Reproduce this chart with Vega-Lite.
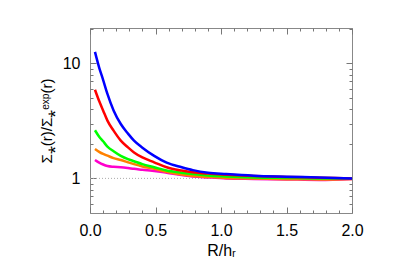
{
  "$schema": "https://vega.github.io/schema/vega-lite/v6.json",
  "width": 262,
  "height": 185,
  "autosize": {"type": "none"},
  "padding": {"left": 90, "top": 28, "right": 55, "bottom": 58},
  "background": "white",
  "config": {
    "view": {"stroke": "#888888", "strokeWidth": 1},
    "axis": {
      "grid": false,
      "domain": false,
      "labelFont": "Liberation Sans",
      "titleFont": "Liberation Sans",
      "labelFontSize": 16,
      "titleFontSize": 16,
      "labelColor": "black",
      "titleColor": "black",
      "titleFontWeight": "normal",
      "tickColor": "#777777",
      "tickWidth": 1
    }
  },
  "datasets": {
    "curves": [
      {"s": "1", "r": 0.038, "v": 1.445}, {"s": "1", "r": 0.07, "v": 1.37}, {"s": "1", "r": 0.1, "v": 1.32}, {"s": "1", "r": 0.133, "v": 1.28}, {"s": "1", "r": 0.18, "v": 1.26}, {"s": "1", "r": 0.235, "v": 1.25}, {"s": "1", "r": 0.29, "v": 1.23}, {"s": "1", "r": 0.336, "v": 1.21}, {"s": "1", "r": 0.4, "v": 1.19}, {"s": "1", "r": 0.49, "v": 1.16}, {"s": "1", "r": 0.585, "v": 1.12}, {"s": "1", "r": 0.7, "v": 1.07}, {"s": "1", "r": 0.785, "v": 1.04}, {"s": "1", "r": 0.9, "v": 1.02}, {"s": "1", "r": 1.04, "v": 1.0}, {"s": "1", "r": 1.25, "v": 0.99}, {"s": "1", "r": 1.5, "v": 0.98}, {"s": "1", "r": 1.75, "v": 0.97}, {"s": "1", "r": 2.0, "v": 0.99},
      {"s": "2", "r": 0.038, "v": 1.8}, {"s": "2", "r": 0.07, "v": 1.7}, {"s": "2", "r": 0.1, "v": 1.63}, {"s": "2", "r": 0.133, "v": 1.575}, {"s": "2", "r": 0.18, "v": 1.5}, {"s": "2", "r": 0.235, "v": 1.445}, {"s": "2", "r": 0.29, "v": 1.38}, {"s": "2", "r": 0.336, "v": 1.33}, {"s": "2", "r": 0.4, "v": 1.27}, {"s": "2", "r": 0.49, "v": 1.21}, {"s": "2", "r": 0.585, "v": 1.14}, {"s": "2", "r": 0.7, "v": 1.08}, {"s": "2", "r": 0.785, "v": 1.05}, {"s": "2", "r": 0.9, "v": 1.03}, {"s": "2", "r": 1.04, "v": 1.01}, {"s": "2", "r": 1.25, "v": 1.0}, {"s": "2", "r": 1.5, "v": 0.985}, {"s": "2", "r": 1.75, "v": 0.98}, {"s": "2", "r": 2.0, "v": 0.99},
      {"s": "3", "r": 0.038, "v": 2.62}, {"s": "3", "r": 0.07, "v": 2.3}, {"s": "3", "r": 0.1, "v": 2.1}, {"s": "3", "r": 0.133, "v": 1.89}, {"s": "3", "r": 0.18, "v": 1.72}, {"s": "3", "r": 0.235, "v": 1.57}, {"s": "3", "r": 0.29, "v": 1.47}, {"s": "3", "r": 0.336, "v": 1.41}, {"s": "3", "r": 0.4, "v": 1.33}, {"s": "3", "r": 0.49, "v": 1.25}, {"s": "3", "r": 0.585, "v": 1.17}, {"s": "3", "r": 0.7, "v": 1.12}, {"s": "3", "r": 0.785, "v": 1.09}, {"s": "3", "r": 0.9, "v": 1.06}, {"s": "3", "r": 1.04, "v": 1.04}, {"s": "3", "r": 1.25, "v": 1.02}, {"s": "3", "r": 1.5, "v": 1.01}, {"s": "3", "r": 1.75, "v": 1.0}, {"s": "3", "r": 2.0, "v": 1.0},
      {"s": "4", "r": 0.038, "v": 5.9}, {"s": "4", "r": 0.07, "v": 4.7}, {"s": "4", "r": 0.1, "v": 3.9}, {"s": "4", "r": 0.133, "v": 3.18}, {"s": "4", "r": 0.18, "v": 2.6}, {"s": "4", "r": 0.235, "v": 2.13}, {"s": "4", "r": 0.29, "v": 1.86}, {"s": "4", "r": 0.336, "v": 1.68}, {"s": "4", "r": 0.4, "v": 1.52}, {"s": "4", "r": 0.49, "v": 1.38}, {"s": "4", "r": 0.585, "v": 1.25}, {"s": "4", "r": 0.7, "v": 1.17}, {"s": "4", "r": 0.785, "v": 1.13}, {"s": "4", "r": 0.9, "v": 1.1}, {"s": "4", "r": 1.04, "v": 1.077}, {"s": "4", "r": 1.25, "v": 1.05}, {"s": "4", "r": 1.5, "v": 1.03}, {"s": "4", "r": 1.75, "v": 1.015}, {"s": "4", "r": 2.0, "v": 1.0},
      {"s": "5", "r": 0.038, "v": 12.6}, {"s": "5", "r": 0.07, "v": 9.2}, {"s": "5", "r": 0.1, "v": 7.2}, {"s": "5", "r": 0.133, "v": 5.42}, {"s": "5", "r": 0.18, "v": 3.9}, {"s": "5", "r": 0.235, "v": 2.97}, {"s": "5", "r": 0.29, "v": 2.45}, {"s": "5", "r": 0.336, "v": 2.13}, {"s": "5", "r": 0.4, "v": 1.85}, {"s": "5", "r": 0.49, "v": 1.57}, {"s": "5", "r": 0.585, "v": 1.37}, {"s": "5", "r": 0.7, "v": 1.25}, {"s": "5", "r": 0.785, "v": 1.18}, {"s": "5", "r": 0.9, "v": 1.12}, {"s": "5", "r": 1.04, "v": 1.09}, {"s": "5", "r": 1.25, "v": 1.055}, {"s": "5", "r": 1.5, "v": 1.035}, {"s": "5", "r": 1.75, "v": 1.02}, {"s": "5", "r": 2.0, "v": 1.0}
    ],
    "ref": [{"v": 1}]
  },
  "layer": [
    {
      "data": {"name": "curves"},
      "mark": {"type": "line", "strokeOpacity": 0},
      "encoding": {
        "x": {"field": "r", "type": "quantitative", "scale": {"domain": [0, 2], "nice": false, "zero": false},
          "axis": {"orient": "bottom", "values": [0, 0.5, 1, 1.5, 2], "format": ".1f", "ticks": false, "tickSize": 0, "labelPadding": 9, "title": "R/hᵣ", "titlePadding": 4, "labelFlush": false}},
        "y": {"field": "v", "type": "quantitative", "scale": {"type": "log", "domain": [0.5, 20.3], "nice": false, "zero": false},
          "axis": {"orient": "left", "values": [1, 10], "format": "d", "ticks": false, "tickSize": 0, "labelPadding": 10, "title": "Σ⁎(r)/Σ⁎ᵉˣᵖ(r)", "titlePadding": 8, "titleFontSize": 15}},
        "detail": {"field": "s"}
      }
    },
    {
      "data": {"name": "curves"},
      "mark": {"type": "line", "strokeOpacity": 0},
      "encoding": {
        "x": {"field": "r", "type": "quantitative", "scale": {"domain": [0, 2], "nice": false, "zero": false},
          "axis": {"orient": "bottom", "values": [0, 0.5, 1, 1.5, 2], "labels": false, "tickSize": -6, "title": null}},
        "y": {"field": "v", "type": "quantitative", "scale": {"type": "log", "domain": [0.5, 20.3], "nice": false, "zero": false},
          "axis": {"orient": "left", "values": [1, 10], "labels": false, "tickSize": -6, "title": null}},
        "detail": {"field": "s"}
      }
    },
    {
      "data": {"name": "curves"},
      "mark": {"type": "line", "strokeOpacity": 0},
      "encoding": {
        "x": {"field": "r", "type": "quantitative", "scale": {"domain": [0, 2], "nice": false, "zero": false},
          "axis": {"orient": "bottom", "values": [0.1, 0.2, 0.3, 0.4, 0.6, 0.7, 0.8, 0.9, 1.1, 1.2, 1.3, 1.4, 1.6, 1.7, 1.8, 1.9], "labels": false, "tickSize": -3, "title": null}},
        "y": {"field": "v", "type": "quantitative", "scale": {"type": "log", "domain": [0.5, 20.3], "nice": false, "zero": false},
          "axis": {"orient": "left", "values": [0.6, 0.7, 0.8, 0.9, 2, 3, 4, 5, 6, 7, 8, 9, 20], "labels": false, "tickSize": -3, "title": null}},
        "detail": {"field": "s"}
      }
    },
    {
      "data": {"name": "curves"},
      "mark": {"type": "line", "strokeOpacity": 0},
      "encoding": {
        "x": {"field": "r", "type": "quantitative", "scale": {"domain": [0, 2], "nice": false, "zero": false},
          "axis": {"orient": "top", "values": [0, 0.5, 1, 1.5, 2], "labels": false, "tickSize": -6, "title": null}},
        "y": {"field": "v", "type": "quantitative", "scale": {"type": "log", "domain": [0.5, 20.3], "nice": false, "zero": false},
          "axis": {"orient": "right", "values": [1, 10], "labels": false, "tickSize": -6, "title": null}},
        "detail": {"field": "s"}
      }
    },
    {
      "data": {"name": "curves"},
      "mark": {"type": "line", "strokeOpacity": 0},
      "encoding": {
        "x": {"field": "r", "type": "quantitative", "scale": {"domain": [0, 2], "nice": false, "zero": false},
          "axis": {"orient": "top", "values": [0.1, 0.2, 0.3, 0.4, 0.6, 0.7, 0.8, 0.9, 1.1, 1.2, 1.3, 1.4, 1.6, 1.7, 1.8, 1.9], "labels": false, "tickSize": -3, "title": null}},
        "y": {"field": "v", "type": "quantitative", "scale": {"type": "log", "domain": [0.5, 20.3], "nice": false, "zero": false},
          "axis": {"orient": "right", "values": [0.6, 0.7, 0.8, 0.9, 2, 3, 4, 5, 6, 7, 8, 9, 20], "labels": false, "tickSize": -3, "title": null}},
        "detail": {"field": "s"}
      }
    },
    {
      "data": {"name": "ref"},
      "mark": {"type": "rule", "color": "#aaaaaa", "strokeWidth": 1, "strokeDash": [1, 2]},
      "encoding": {
        "y": {"field": "v", "type": "quantitative", "scale": {"type": "log", "domain": [0.5, 20.3], "nice": false, "zero": false}, "axis": null}
      }
    },
    {
      "data": {"name": "curves"},
      "mark": {"type": "line", "strokeWidth": 2.5, "interpolate": "monotone"},
      "encoding": {
        "x": {"field": "r", "type": "quantitative", "scale": {"domain": [0, 2], "nice": false, "zero": false}, "axis": null},
        "y": {"field": "v", "type": "quantitative", "scale": {"type": "log", "domain": [0.5, 20.3], "nice": false, "zero": false}, "axis": null},
        "color": {"field": "s", "type": "nominal", "scale": {"domain": ["1", "2", "3", "4", "5"], "range": ["#ff00cc", "#ff8000", "#00ff00", "#ff0000", "#0000ff"]}, "legend": null}
      }
    }
  ],
  "resolve": {"axis": {"x": "independent", "y": "independent"}}
}
